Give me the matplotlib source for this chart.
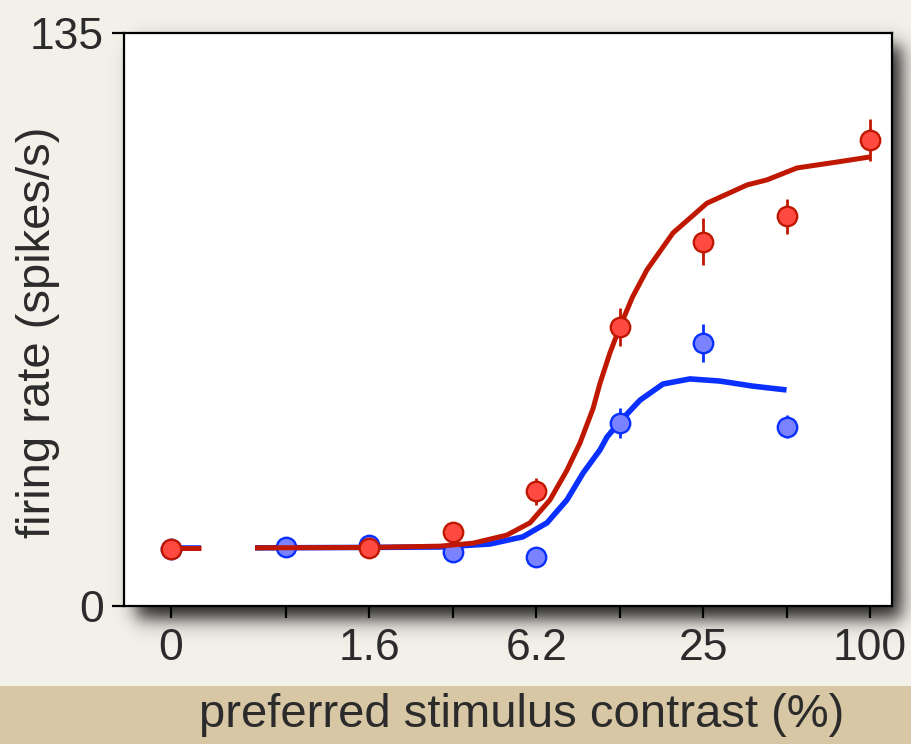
import numpy as np
import matplotlib
matplotlib.use("Agg")
import matplotlib.pyplot as plt
from matplotlib.patches import Rectangle

plt.rcParams["font.family"] = ["Liberation Sans", "DejaVu Sans"]

# contrast (%) ; 0.30 is the stand-in position for the "0" contrast column
tick_pos = [0.30, 0.78, 1.56, 3.12, 6.25, 12.5, 25, 50, 100]
tick_labels = ["0", "", "1.6", "", "6.2", "", "25", "", "100"]

# measured responses
red_x = [0.30, 1.56, 3.12, 6.25, 12.5, 25, 50, 100]
red_y = [13.4, 13.7, 17.5, 27.0, 65.7, 85.8, 91.8, 109.8]
red_err = [0, 0, 0, 3.2, 4.5, 5.5, 4.1, 4.9]

blue_x = [0.30, 0.78, 1.56, 3.12, 6.25, 12.5, 25, 50]
blue_y = [13.4, 13.9, 14.4, 12.7, 11.5, 43.1, 62.0, 42.2]
blue_err = [0, 0, 0, 0, 0, 3.6, 4.4, 2.7]

# fitted curves
zero_seg_x = [0.30, 0.384]
zero_seg_y = [13.7, 13.7]

red_fit_x = [0.603, 1.56, 2.805, 3.69, 4.89, 5.93, 7.00, 8.06, 8.98, 10.01,
             10.61, 11.5, 12.5, 13.9, 15.67, 19.46, 25.8, 36.0, 42.5, 54.5, 76.0, 100]
red_fit_y = [13.7, 13.8, 14.1, 14.8, 16.7, 19.6, 25.0, 32.0, 38.4, 46.5,
             52.5, 59.5, 65.7, 72.8, 79.2, 87.9, 94.9, 99.2, 100.4, 103.2, 104.6, 105.8]

blue_fit_x = [0.603, 1.56, 2.805, 4.25, 5.59, 6.83, 8.06, 9.21, 10.61, 11.24,
              12.5, 14.79, 17.9, 22.4, 28.7, 37.8, 50]
blue_fit_y = [13.7, 13.8, 13.9, 14.6, 16.3, 19.6, 25.0, 31.3, 36.8, 39.8,
              43.4, 48.5, 52.3, 53.5, 53.0, 51.8, 50.9]

RED_LINE = "#c01800"
RED_FACE = "#ff4a42"
BLUE_LINE = "#0a30ff"
BLUE_FACE = "#7b82ff"
TEXT = "#2b2b2b"

W, H = 911, 744
fig = plt.figure(figsize=(W / 100, H / 100), dpi=100, facecolor="#f3f0e9")
ax = fig.add_axes([124 / W, 1 - 606 / H, (892 - 124) / W, (606 - 33) / H])
ax.set_facecolor("white")

# bottom tan strip
fig.patches.append(Rectangle((0, 0), 1, (H - 686) / H, transform=fig.transFigure,
                             facecolor="#d8c7a5", edgecolor="none", zorder=-2))

# soft drop shadow behind the axes box
pos = ax.get_position()
x0, x1 = pos.x0 * W, pos.x1 * W
y0, y1 = (1 - pos.y1) * H, (1 - pos.y0) * H
yy, xx = np.mgrid[0:H, 0:W]


def soft(v, a, b, s):
    return 1 / (1 + np.exp(-(v - a) / s)) / (1 + np.exp((v - b) / s))


shadow = np.zeros((H, W, 4))
shadow[..., 3] = 0.88 * soft(xx, x0 + 12, x1 + 9, 5.5) * soft(yy, y0 + 12, y1 + 12, 5.5)
fig.figimage(shadow, 0, 0, origin="upper", zorder=-1)

# blue first, red on top
ax.plot(zero_seg_x, zero_seg_y, color=BLUE_LINE, lw=4.0, solid_capstyle="butt", zorder=2)
ax.plot(blue_fit_x, blue_fit_y, color=BLUE_LINE, lw=4.0, solid_capstyle="butt",
        solid_joinstyle="round", zorder=2)
ax.errorbar(blue_x, blue_y, yerr=blue_err, fmt="o", ms=14, mfc=BLUE_FACE, mec=BLUE_LINE,
            mew=1.7, ecolor=BLUE_LINE, elinewidth=2.0, capsize=0, zorder=3)
ax.plot(zero_seg_x, zero_seg_y, color=RED_LINE, lw=3.6, solid_capstyle="butt", zorder=4)
ax.plot(red_fit_x, red_fit_y, color=RED_LINE, lw=3.6, solid_capstyle="butt",
        solid_joinstyle="round", zorder=4)
ax.errorbar(red_x, red_y, yerr=red_err, fmt="o", ms=14, mfc=RED_FACE, mec=RED_LINE,
            mew=1.7, ecolor=RED_LINE, elinewidth=2.0, capsize=0, zorder=5)

ax.set_xscale("log", base=2)
ax.set_xlim(0.203, 120.1)
ax.set_ylim(0, 135)
ax.set_xticks(tick_pos)
ax.set_xticklabels(tick_labels)
ax.minorticks_off()
ax.set_yticks([0, 135])
ax.set_yticklabels(["0", "135"])

for sp in ax.spines.values():
    sp.set_linewidth(1.6)
    sp.set_color("black")
    sp.set_zorder(6)
ax.tick_params(axis="x", direction="out", length=8.5, width=1.6, pad=7,
               labelsize=32, labelcolor=TEXT)
ax.tick_params(axis="y", direction="out", length=8.5, width=1.6, pad=6,
               labelsize=32, labelcolor=TEXT)

fig.text(38 / W, 1 - 332 / H, "firing rate (spikes/s)", rotation=90, fontsize=34,
         color=TEXT, ha="center", va="center")
fig.text(522 / W, 1 - 715 / H, "preferred stimulus contrast (%)", fontsize=34,
         color=TEXT, ha="center", va="center")

fig.savefig("out.png", dpi=100, facecolor=fig.get_facecolor())
